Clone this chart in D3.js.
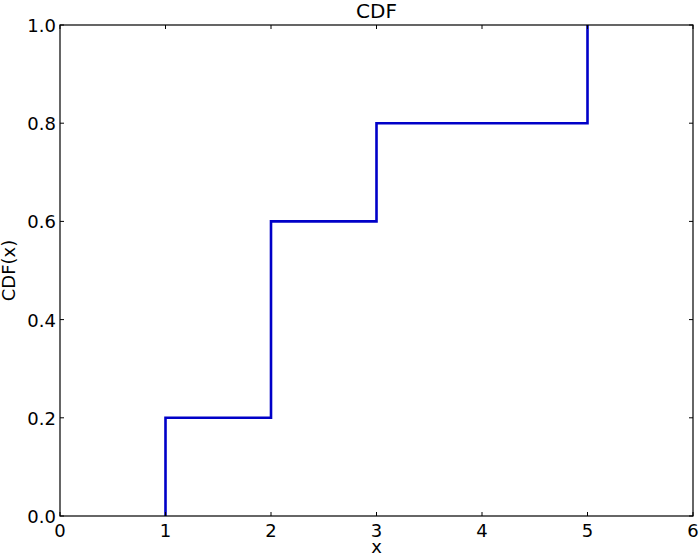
<!DOCTYPE html>
<html>
<head>
<meta charset="utf-8">
<script src="https://cdn.jsdelivr.net/npm/d3@7"></script>
<style>
  body { margin: 0; background: #fff; }
  text { font-family: "DejaVu Sans", sans-serif; fill: #000; }
</style>
</head>
<body>
<div id="chart"></div>
<script>
// step points of the CDF
var xValues = [1, 2, 3, 5];
var cdfValues = [0.2, 0.6, 0.8, 1.0];
var xTicks = [0, 1, 2, 3, 4, 5, 6];
var yTicks = [0.0, 0.2, 0.4, 0.6, 0.8, 1.0];

var margin = {top: 25, right: 7, bottom: 39, left: 60},
    width = 700 - margin.left - margin.right,
    height = 555 - margin.top - margin.bottom;

var svg = d3.select("#chart")
  .append("svg")
    .attr("width", 700)
    .attr("height", 555)
  .append("g")
    .attr("transform", "translate(" + margin.left + "," + margin.top + ")");

var xScale = d3.scaleLinear().domain([0, 6]).range([0, width]);
var yScale = d3.scaleLinear().domain([0, 1]).range([height, 0]);

// build step path from (x0, 0)
var pts = [[xValues[0], 0]];
xValues.forEach(function(x, i) {
  if (i > 0) pts.push([x, cdfValues[i - 1]]);
  pts.push([x, cdfValues[i]]);
});

svg.append("path")
  .datum(pts)
  .attr("fill", "none")
  .attr("stroke", "#0000c8")
  .attr("stroke-width", 2.6)
  .attr("d", d3.line().x(d => xScale(d[0])).y(d => yScale(d[1])));

// frame
svg.append("rect")
  .attr("width", width).attr("height", height)
  .attr("fill", "none").attr("stroke", "#000").attr("stroke-width", 1.2);

// inward ticks on all sides
var tl = 4;
xTicks.forEach(function(t) {
  var x = xScale(t);
  svg.append("line").attr("x1", x).attr("x2", x).attr("y1", height).attr("y2", height - tl)
    .attr("stroke", "#000");
  svg.append("line").attr("x1", x).attr("x2", x).attr("y1", 0).attr("y2", tl)
    .attr("stroke", "#000");
  svg.append("text").attr("x", x).attr("y", height + 21)
    .attr("text-anchor", "middle").attr("font-size", 18).text(d3.format("d")(t));
});
yTicks.forEach(function(t) {
  var y = yScale(t);
  svg.append("line").attr("x1", 0).attr("x2", tl).attr("y1", y).attr("y2", y)
    .attr("stroke", "#000");
  svg.append("line").attr("x1", width).attr("x2", width - tl).attr("y1", y).attr("y2", y)
    .attr("stroke", "#000");
  svg.append("text").attr("x", -4).attr("y", y + 7)
    .attr("text-anchor", "end").attr("font-size", 18).text(d3.format(".1f")(t));
});

// title and axis labels
svg.append("text").attr("x", width / 2).attr("y", -7)
  .attr("text-anchor", "middle").attr("font-size", 20).text("CDF");
svg.append("text").attr("x", width / 2).attr("y", height + 37)
  .attr("text-anchor", "middle").attr("font-size", 18).text("x");
svg.append("text")
  .attr("transform", "translate(" + (-45) + "," + (height / 2) + ") rotate(-90)")
  .attr("text-anchor", "middle").attr("font-size", 18).text("CDF(x)");
</script>
</body>
</html>
